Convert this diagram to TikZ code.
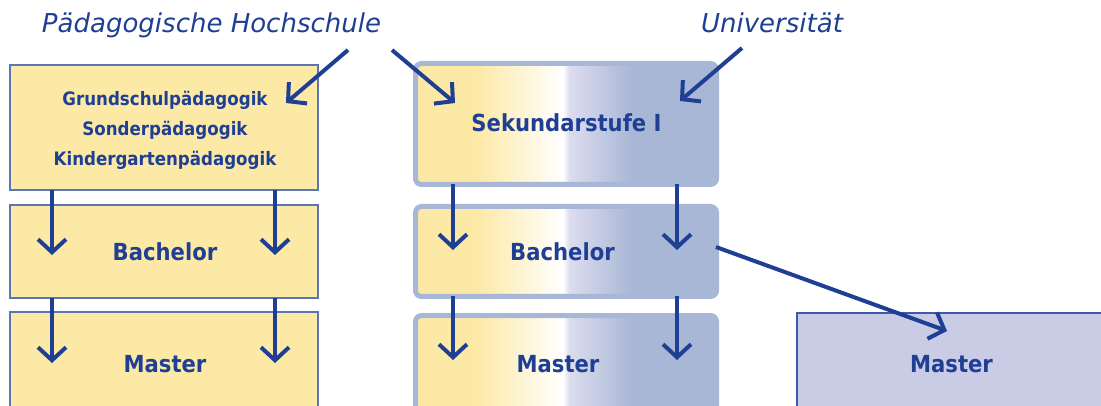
\documentclass[tikz,border=0pt]{standalone}
\usepackage{fontspec}
\setmainfont{DejaVu Sans}
\newfontfamily\boldf{DejaVu Sans}[FakeStretch=0.9]
\usetikzlibrary{arrows.meta}
\definecolor{dblue}{HTML}{1F3F94}
\definecolor{yel}{HTML}{FDE9A6}
\definecolor{lbord}{HTML}{5B76B5}
\definecolor{gbl}{HTML}{A9B7D6}
\definecolor{lav}{HTML}{DCDDEE}
\definecolor{rfill}{HTML}{CACBE5}
\definecolor{rbord}{HTML}{3F5AA6}
\pgfdeclarehorizontalshading{midgrad}{100bp}{color(0bp)=(yel); color(35bp)=(yel); color(49.5bp)=(white); color(50.5bp)=(lav); color(61bp)=(gbl); color(100bp)=(gbl)}
\tikzset{
  lbox/.style={draw=lbord, line width=1.3pt, fill=yel, inner sep=0pt, outer sep=0pt},
  mbox/.style={draw=gbl, line width=5pt, shading=midgrad, rounded corners=6pt, inner sep=0pt, outer sep=0pt},
  rbox/.style={draw=rbord, line width=1.3pt, fill=rfill, inner sep=0pt, outer sep=0pt},
  big/.style={text=dblue, font=\boldf\bfseries\fontsize{23.5}{28}\selectfont, anchor=base, inner sep=0pt},
  small/.style={text=dblue, font=\boldf\bfseries\fontsize{18.5}{30}\selectfont, align=center, inner sep=0pt},
  ttl/.style={text=dblue, font=\itshape\fontsize{26}{30}\selectfont, anchor=base, inner sep=0pt},
  arr/.style={draw=dblue, line width=4pt, -{Straight Barb[length=13pt,width=28pt]}}
}
\begin{document}
\begin{tikzpicture}[x=1pt,y=-1pt]
\useasboundingbox (0,0) rectangle (1101,406);
\clip (0,0) rectangle (1101,406);
% left column
\node[lbox, minimum width=308pt, minimum height=125pt] (L1) at (164,127.5) {};
\node[lbox, minimum width=308pt, minimum height=93pt] (L2) at (164,251.5) {};
\node[lbox, minimum width=308pt, minimum height=100pt] (L3) at (164,362) {};
% middle column
\node[mbox, minimum width=301pt, minimum height=121pt] (M1) at (566,124) {};
\node[mbox, minimum width=301pt, minimum height=90pt] (M2) at (566,251.5) {};
\node[mbox, minimum width=301pt, minimum height=100pt] (M3) at (566,365.5) {};
% right box
\node[rbox, minimum width=313pt, minimum height=102pt] (R) at (953.5,364) {};
% texts
\node[small] (tL1) at (165,130) {Grundschulpädagogik\\Sonderpädagogik\\Kindergartenpädagogik};
\node[big] (tL2) at (165,261) {Bachelor};
\node[big] (tL3) at (165,372) {Master};
\node[big] (tM1) at (566.5,132) {Sekundarstufe I};
\node[big] (tM2) at (562.5,261) {Bachelor};
\node[big] (tM3) at (558,372) {Master};
\node[big] (tR) at (951.5,372.5) {Master};
\node[ttl] (ph) at (211.5,33) {Pädagogische Hochschule};
\node[ttl] (uni) at (772,33) {Universität};
% arrow coordinates
\coordinate (a1) at (52,255);
\coordinate (a2) at (275,255);
\coordinate (a3) at (52,363);
\coordinate (a4) at (275,363);
\coordinate (b1) at (453,250);
\coordinate (b2) at (677,250);
\coordinate (b3) at (453,360);
\coordinate (b4) at (677,360);
\draw[arr] (L1.south -| a1) -- (a1);
\draw[arr] (L1.south -| a2) -- (a2);
\draw[arr] (L2.south -| a3) -- (a3);
\draw[arr] (L2.south -| a4) -- (a4);
\draw[arr] (M1.south -| b1) -- (b1);
\draw[arr] (M1.south -| b2) -- (b2);
\draw[arr] (M2.south -| b3) -- (b3);
\draw[arr] (M2.south -| b4) -- (b4);
% title arrows
\coordinate (p1) at (348,50);
\coordinate (p2) at (392,50);
\coordinate (u1) at (742,48);
\coordinate (t1) at (286,103);
\coordinate (t2) at (455,103);
\coordinate (t3) at (680,101);
\draw[arr] (p1) -- (t1);
\draw[arr] (p2) -- (t2);
\draw[arr] (u1) -- (t3);
% diagonal
\coordinate (d1) at (716,247);
\coordinate (d2) at (947,331);
\draw[arr] (d1) -- (d2);
\end{tikzpicture}
\end{document}
